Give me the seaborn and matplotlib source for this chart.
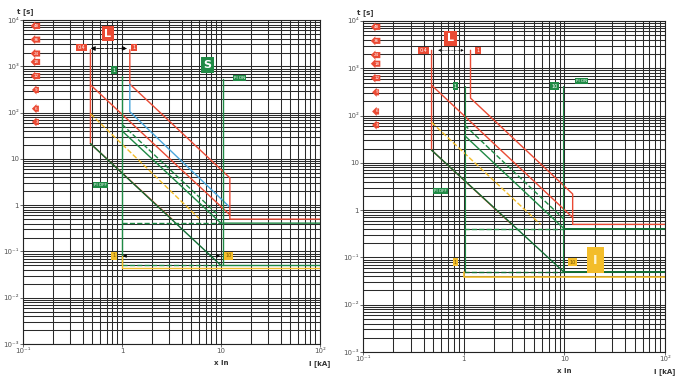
import matplotlib
matplotlib.use("Agg")
import matplotlib.pyplot as plt
import seaborn as sns
from matplotlib.ticker import LogLocator, NullFormatter

sns.set_theme(style="white")
plt.rcParams['font.family'] = ['DejaVu Sans']

# colours
RED = "#ea4a34"
GREEN = "#1f8a45"
DKGREEN = "#106b32"
YELLOW = "#f3bd2a"
BLUE = "#4aa6dc"

# axis ticks
x_ticks = [0.1, 1, 10, 100]
x_ticklabels = ["10⁻¹", "1", "10", "10²"]
y_ticks = [0.001, 0.01, 0.1, 1, 10, 100, 1000, 10000]
y_ticklabels = ["10⁻³", "10⁻²", "10⁻¹", "1", "10", "10²", "10³", "10⁴"]

# red t1 tags on the left edge (t values in s)
tag_t = [7500, 3800, 1900, 1250, 620, 310, 122, 63]
tag_labels = ["48", "36", "24", "18", "12", "9", "6", "3"]

# ---- left chart curves (x In, t s) ----
left_red1_x = [1.2, 1.2, 12.3, 12.3, 100]
left_red1_t = [2300, 415, 3.9, 0.5, 0.5]
left_red2_x = [0.48, 0.48, 12.3]
left_red2_t = [2300, 400, 0.62]
left_red3_x = [0.48, 0.48, 3.2]
left_red3_t = [400, 21.5, 0.5]
left_blue_x = [1.2, 1.2, 12.0]
left_blue_t = [415, 105, 0.95]
left_yel_x = [0.48, 6.0]
left_yel_t = [95, 0.52]
left_grn1_x = [1.0, 10.0, 100]
left_grn1_t = [40.5, 0.41, 0.41]
left_grn2_x = [1.0, 9.5]
left_grn2_t = [56, 0.6]
left_grnlow_x = [0.48, 10.0]
left_grnlow_t = [21.5, 0.05]
left_grnv1_x = [1.0, 1.0]
left_grnv1_t = [615, 0.05]
left_grnv2_x = [10.4, 10.4]
left_grnv2_t = [530, 0.05]

# ---- right chart curves ----
right_red1_x = [1.17, 1.17, 12.1, 12.1, 100]
right_red1_t = [2400, 234, 2.2, 0.5, 0.5]
right_red2_x = [0.48, 0.48, 12.1]
right_red2_t = [2400, 440, 0.7]
right_red3_x = [0.48, 0.48, 3.0]
right_red3_t = [440, 18.6, 0.5]
right_yel_x = [0.48, 5.8]
right_yel_t = [72, 0.5]
right_grn1_x = [1.02, 10.0]
right_grn1_t = [38, 0.4]
right_grn2_x = [1.02, 9.8]
right_grn2_t = [63, 0.66]
right_grnlow_x = [0.48, 9.8]
right_grnlow_t = [18.6, 0.05]
right_grnv1_x = [1.02, 1.02]
right_grnv1_t = [420, 0.049]
right_grnv2_x = [9.8, 9.8]
right_grnv2_t = [420, 0.049]


def line(ax, xs, ts, color, ls="-", lw=1.0):
    sns.lineplot(x=xs, y=ts, ax=ax, color=color, linestyle=ls, lw=lw,
                 sort=False, estimator=None)


def tag(ax, x, t, text, color, fs=3.5, style="square,pad=0.25", tc="white", weight="normal"):
    ax.text(x, t, text, color=tc, fontsize=fs, ha="center", va="center", weight=weight,
            bbox=dict(boxstyle=style, fc=color, ec="none"), zorder=6)


def setup(ax):
    ax.set_xscale("log")
    ax.set_yscale("log")
    ax.set_xlim(0.1, 100)
    ax.set_ylim(0.001, 10000)
    ax.xaxis.set_minor_locator(LogLocator(base=10, subs=range(2, 10)))
    ax.yaxis.set_minor_locator(LogLocator(base=10, subs=range(2, 10)))
    ax.xaxis.set_minor_formatter(NullFormatter())
    ax.yaxis.set_minor_formatter(NullFormatter())
    ax.set_xticks(x_ticks)
    ax.set_xticklabels(x_ticklabels)
    ax.set_yticks(y_ticks)
    ax.set_yticklabels(y_ticklabels)
    ax.grid(which="both", color="#2a2a2a", lw=0.75)
    ax.tick_params(which="major", length=2, width=0.6, labelsize=5, colors="#555555", pad=1,
                   left=True, bottom=True)
    ax.tick_params(which="minor", length=0)
    for s in ax.spines.values():
        s.set_color("#222222")
        s.set_linewidth(0.8)
    ax.set_xlabel("")
    ax.set_ylabel("")
    ax.text(-0.02, 1.015, "t [s]", transform=ax.transAxes, fontsize=5, ha="left", va="bottom",
            color="#333333", weight="bold")
    ax.text(10, 0.00045, "x In", fontsize=5, ha="center", va="top", color="#333333", weight="bold")
    ax.text(100, 0.00045, "I [kA]", fontsize=5, ha="center", va="top", color="#333333", weight="bold")
    for t, lab in zip(tag_t, tag_labels):
        tag(ax, 0.137, t, lab, RED, fs=3, style="larrow,pad=0.25")


fig = plt.figure(figsize=(6.81, 3.77), dpi=100)
fig.patch.set_facecolor("white")
axL = fig.add_axes([0.0338, 0.0875, 0.436, 0.859])
axR = fig.add_axes([0.533, 0.0663, 0.4435, 0.878])

# ---------- left chart ----------
setup(axL)
line(axL, left_red1_x, left_red1_t, RED)
line(axL, left_red2_x, left_red2_t, RED)
line(axL, left_red3_x, left_red3_t, RED)
line(axL, left_blue_x, left_blue_t, BLUE)
line(axL, left_yel_x, left_yel_t, YELLOW, ls="--")
line(axL, left_grn1_x, left_grn1_t, GREEN)
line(axL, left_grn2_x, left_grn2_t, GREEN, ls="--")
line(axL, left_grnlow_x, left_grnlow_t, DKGREEN)
line(axL, left_grnv1_x, left_grnv1_t, GREEN)
line(axL, left_grnv2_x, left_grnv2_t, GREEN)
line(axL, [1.0, 10.0], [0.41, 0.41], GREEN, ls="--")
line(axL, [1.0, 10.0], [0.05, 0.05], GREEN, ls="--")
line(axL, [10.0, 100], [0.05, 0.05], GREEN)
line(axL, [1.0, 1.0, 100], [0.08, 0.044, 0.044], YELLOW)

tag(axL, 0.72, 5150, "L", RED, fs=8, weight="bold")
tag(axL, 0.39, 2600, "0.4", RED)
tag(axL, 1.32, 2600, "1", RED)
axL.annotate("", xy=(0.45, 2450), xytext=(1.2, 2450),
             arrowprops=dict(arrowstyle="<|-|>", color="black", lw=0.6, ls="--", mutation_scale=7))
tag(axL, 0.83, 830, "1", GREEN)
tag(axL, 7.3, 1060, "S", GREEN, fs=8, weight="bold")
tag(axL, 15.5, 560, "PI ON", GREEN, fs=3)
tag(axL, 0.6, 2.7, "PI OFF", GREEN, fs=3)
tag(axL, 0.83, 0.08, "1", YELLOW, tc="#7a5a00")
tag(axL, 12.0, 0.08, "10", YELLOW, tc="#7a5a00")
axL.annotate("", xy=(1.02, 0.08), xytext=(1.15, 0.08),
             arrowprops=dict(arrowstyle="-|>", color="black", lw=0.5, mutation_scale=5))
axL.annotate("", xy=(9.8, 0.08), xytext=(8.8, 0.08),
             arrowprops=dict(arrowstyle="-|>", color="black", lw=0.5, mutation_scale=5))

# ---------- right chart ----------
setup(axR)
line(axR, right_red1_x, right_red1_t, RED)
line(axR, right_red2_x, right_red2_t, RED)
line(axR, right_red3_x, right_red3_t, RED)
line(axR, right_yel_x, right_yel_t, YELLOW, ls="--")
line(axR, right_grn1_x, right_grn1_t, GREEN)
line(axR, right_grn2_x, right_grn2_t, GREEN, ls="--")
line(axR, right_grnlow_x, right_grnlow_t, DKGREEN)
line(axR, right_grnv1_x, right_grnv1_t, GREEN, lw=0.8)
line(axR, right_grnv2_x, right_grnv2_t, GREEN, lw=0.8)
line(axR, [1.0, 10.0], [0.4, 0.4], GREEN, ls="--")
line(axR, [10.0, 100], [0.4, 0.4], DKGREEN, lw=1.4)
line(axR, [1.0, 10.0], [0.049, 0.049], DKGREEN, ls="--")
line(axR, [10.0, 100], [0.049, 0.049], DKGREEN, lw=1.4)
line(axR, [1.0, 1.0, 100], [0.049, 0.038, 0.038], YELLOW, lw=1.2)

tag(axR, 0.74, 4300, "L", RED, fs=8, weight="bold")
tag(axR, 0.40, 2400, "0.4", RED)
tag(axR, 1.38, 2400, "1", RED)
axR.annotate("", xy=(0.52, 2400), xytext=(1.07, 2400),
             arrowprops=dict(arrowstyle="<|-|>", color="black", lw=0.4, ls=":", mutation_scale=4))
tag(axR, 0.83, 420, "1", GREEN)
tag(axR, 8.0, 420, "10", GREEN)
tag(axR, 14.9, 530, "PI ON", GREEN, fs=3)
tag(axR, 0.59, 2.5, "PI OFF", GREEN, fs=3)
tag(axR, 0.83, 0.08, "1", YELLOW, tc="#7a5a00")
tag(axR, 12.1, 0.08, "10", YELLOW, tc="#7a5a00")
tag(axR, 20.4, 0.088, "I", YELLOW, fs=9, style="square,pad=0.5", tc="#fff6d0", weight="bold")

fig.savefig("out.png", dpi=100)
